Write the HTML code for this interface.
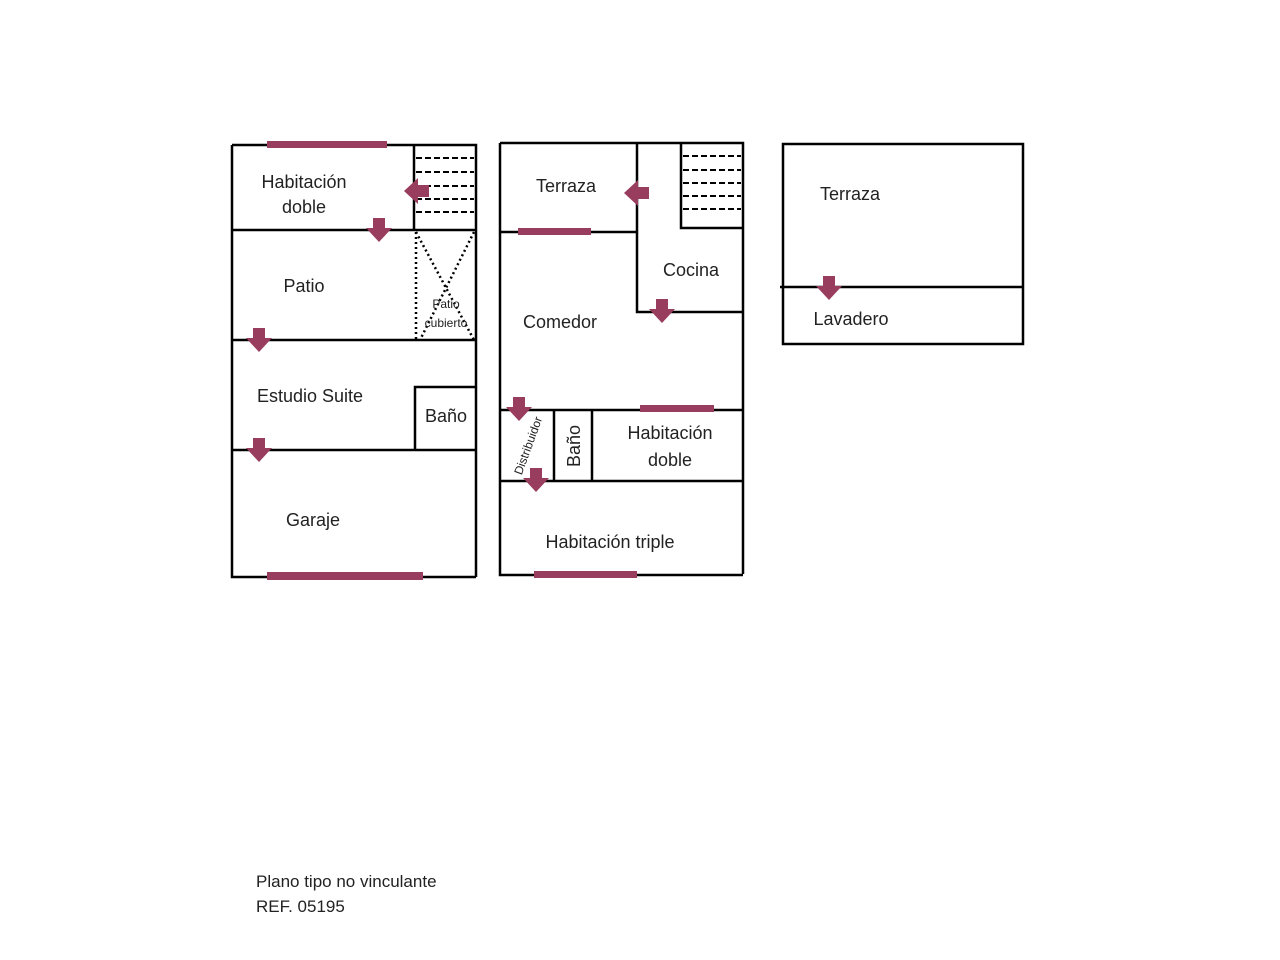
<!DOCTYPE html>
<html><head><meta charset="utf-8"><style>
html,body{margin:0;padding:0;background:#fff;width:1280px;height:960px;overflow:hidden}
svg text{font-family:"Liberation Sans",sans-serif;fill:#222}
</style></head><body>
<svg width="1280" height="960" xmlns="http://www.w3.org/2000/svg">
<defs>
<g id="ad"><rect x="-6" y="-12" width="12" height="11" fill="#993d5f"/><polygon points="-13,-2 13,-2 0,12" fill="#993d5f"/></g>
<g id="al"><rect x="1" y="-6" width="12" height="12" fill="#993d5f"/><polygon points="2,-13 2,13 -12,0" fill="#993d5f"/></g>
</defs>
<g stroke="#000" stroke-width="2.5" fill="none">
<!-- left plan -->
<path d="M232 145 H476 V577 M232 145 V577 H476"/>
<path d="M414 145 V230 M232 230 H476 M232 340 H476 M415 450 V387 H476 M232 450 H476"/>
</g>
<g stroke="#000" stroke-width="2" stroke-dasharray="6,3">
<path d="M416 158H474M416 172H474M416 186H474M416 199H474M416 212H474"/>
</g>
<g stroke="#000" stroke-width="2.5" stroke-dasharray="2,3" fill="none">
<path d="M416 232 V340 M416 232 L474 340 M474 232 L420 340"/>
</g>
<g fill="#993d5f">
<rect x="267" y="141" width="120" height="7"/>
<rect x="267" y="572" width="156" height="8"/>
</g>
<use href="#al" x="416" y="191"/>
<use href="#ad" x="379" y="230"/>
<use href="#ad" x="259" y="340"/>
<use href="#ad" x="259" y="450"/>
<text x="304" y="188" font-size="18" text-anchor="middle">Habitación</text>
<text x="304" y="213" font-size="18" text-anchor="middle">doble</text>
<text x="304" y="292" font-size="18" text-anchor="middle">Patio</text>
<text x="446" y="308" font-size="12" text-anchor="middle">Patio</text>
<text x="446" y="327" font-size="12" text-anchor="middle">cubierto</text>
<text x="257" y="402" font-size="18">Estudio Suite</text>
<text x="446" y="422" font-size="18" text-anchor="middle">Baño</text>
<text x="313" y="526" font-size="18" text-anchor="middle">Garaje</text>
<!-- middle plan -->
<g stroke="#000" stroke-width="2.5" fill="none">
<path d="M500 143 H743 V574 M500 143 V575 H743"/>
<path d="M637 143 V312 H743 M500 232 H637 M681 143 V228 H743 M500 410 H743 M554 410 V481 M592 410 V481 M500 481 H743"/>
</g>
<g stroke="#000" stroke-width="2" stroke-dasharray="6,3">
<path d="M683 156H741M683 170H741M683 183H741M683 196H741M683 209H741"/>
</g>
<g fill="#993d5f">
<rect x="518" y="228" width="73" height="7"/>
<rect x="640" y="405" width="74" height="7"/>
<rect x="534" y="571" width="103" height="7"/>
</g>
<use href="#al" x="636" y="193"/>
<use href="#ad" x="662" y="311"/>
<use href="#ad" x="519" y="409"/>
<use href="#ad" x="536" y="480"/>
<text x="566" y="192" font-size="18" text-anchor="middle">Terraza</text>
<text x="691" y="276" font-size="18" text-anchor="middle">Cocina</text>
<text x="560" y="328" font-size="18" text-anchor="middle">Comedor</text>
<text x="670" y="439" font-size="18" text-anchor="middle">Habitación</text>
<text x="670" y="466" font-size="18" text-anchor="middle">doble</text>
<text x="610" y="548" font-size="18" text-anchor="middle">Habitación triple</text>
<text transform="translate(580,446) rotate(-90)" font-size="18" text-anchor="middle">Baño</text>
<text transform="translate(532,447) rotate(-70)" font-size="12" text-anchor="middle">Distribuidor</text>
<!-- right plan -->
<g stroke="#000" stroke-width="2.5" fill="none">
<path d="M783 144 H1023 V344 H783 Z M780 287 H1023"/>
</g>
<use href="#ad" x="829" y="288"/>
<text x="850" y="200" font-size="18" text-anchor="middle">Terraza</text>
<text x="851" y="325" font-size="18" text-anchor="middle">Lavadero</text>
<text x="256" y="887" font-size="17">Plano tipo no vinculante</text>
<text x="256" y="912" font-size="17">REF. 05195</text>
</svg>
</body></html>
